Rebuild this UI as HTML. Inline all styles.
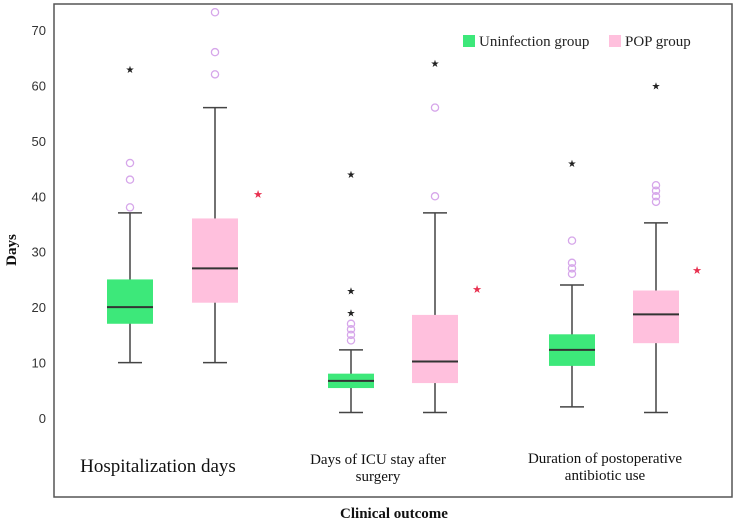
<!DOCTYPE html>
<html><head><meta charset="utf-8"><style>
body{margin:0;background:#fff;}
svg{display:block;}
</style></head><body>
<svg id="chart" width="734" height="521" xmlns="http://www.w3.org/2000/svg">
<rect x="54" y="4" width="678" height="493" fill="#fff" stroke="#555" stroke-width="1.5"/>
<g id="yaxis"></g>
<g id="boxes"></g>
<g font-family="Liberation Serif, serif" font-size="15" fill="#222">
 <rect x="463" y="35" width="12" height="12" fill="#3de87a"/>
 <text x="479" y="46">Uninfection group</text>
 <rect x="609" y="35" width="12" height="12" fill="#ffc0dd"/>
 <text x="625" y="46">POP group</text>
</g>
<g font-family="Liberation Serif, serif" fill="#111">
 <text x="158" y="472" font-size="19" text-anchor="middle">Hospitalization days</text>
 <text x="378" y="464" font-size="15" text-anchor="middle">Days of ICU stay after</text>
 <text x="378" y="481" font-size="15" text-anchor="middle">surgery</text>
 <text x="605" y="463" font-size="15" text-anchor="middle">Duration of postoperative</text>
 <text x="605" y="480" font-size="15" text-anchor="middle">antibiotic use</text>
 <text x="394" y="518" font-size="15" font-weight="bold" text-anchor="middle">Clinical outcome</text>
 <text transform="translate(16,250) rotate(-90)" font-size="15" font-weight="bold" text-anchor="middle">Days</text>
</g>
</svg>
<script>
const yTicks=[0,10,20,30,40,50,60,70];
const groupCenters=[130,215,351,435,572,656];
const groupNames=['hosp-uninfection','hosp-pop','icu-uninfection','icu-pop','antibiotic-uninfection','antibiotic-pop'];
const mins=[10,10,1,1,2,1];
const q1s=[17,20.8,5.4,6.3,9.4,13.5];
const medians=[20,27,6.7,10.2,12.3,18.7];
const q3s=[25,36,8,18.6,15.1,23];
const maxs=[37,56,12.3,37,24,35.2];
const circleOutliers=[[38,43,46],[62,66,73.2],[14,15,16,17],[40,56],[26,27,28,32],[39,40,41,42]];
const starOutliers=[[63],[],[19,23,44],[64],[46],[60]];
const sigX=[258,477,697];
const sigY=[40.4,23.3,26.7];
const fills=['#3de87a','#ffc0dd'];
const NS='http://www.w3.org/2000/svg';
function y(v){return 418-5.543*v;}
function mk(tag,attrs,parent){const e=document.createElementNS(NS,tag);for(const k in attrs)e.setAttribute(k,attrs[k]);parent.appendChild(e);return e;}
const ya=document.getElementById('yaxis');
yTicks.forEach(t=>{
 const e=mk('text',{x:46,y:y(t)+5,'text-anchor':'end','font-family':'Liberation Sans, sans-serif','font-size':'13',fill:'#333'},ya);
 
 
 e.textContent=t;
});
const g=document.getElementById('boxes');
groupCenters.forEach((cx,i)=>{
 const gr=mk('g',{},g);
 
 
 mk('line',{x1:cx,x2:cx,y1:y(mins[i]),y2:y(maxs[i]),stroke:'#444','stroke-width':1.5},gr);
 mk('line',{x1:cx-12,x2:cx+12,y1:y(mins[i]),y2:y(mins[i]),stroke:'#444','stroke-width':1.5},gr);
 mk('line',{x1:cx-12,x2:cx+12,y1:y(maxs[i]),y2:y(maxs[i]),stroke:'#444','stroke-width':1.5},gr);
 mk('rect',{x:cx-23,y:y(q3s[i]),width:46,height:y(q1s[i])-y(q3s[i]),fill:fills[i%2]},gr);
 mk('line',{x1:cx-23,x2:cx+23,y1:y(medians[i]),y2:y(medians[i]),stroke:'#333','stroke-width':2},gr);
 circleOutliers[i].forEach(v=>{
  const c=mk('circle',{cx:cx,cy:y(v),r:3.6,fill:'none',stroke:'#d6a6ea','stroke-width':1.3},gr);
  
  
 });
 starOutliers[i].forEach(v=>{
  const s=mk('text',{x:cx,y:y(v)+4,'text-anchor':'middle','font-size':'10','font-family':'DejaVu Sans, sans-serif',fill:'#222'},gr);
  
  
  s.textContent='★';
 });
});
sigX.forEach((sx,i)=>{
 const s=mk('text',{x:sx,y:y(sigY[i])+4,'text-anchor':'middle','font-size':'11','font-family':'DejaVu Sans, sans-serif',fill:'#e8304f'},g);
 
 
 s.textContent='★';
});
</script>
</body></html>
